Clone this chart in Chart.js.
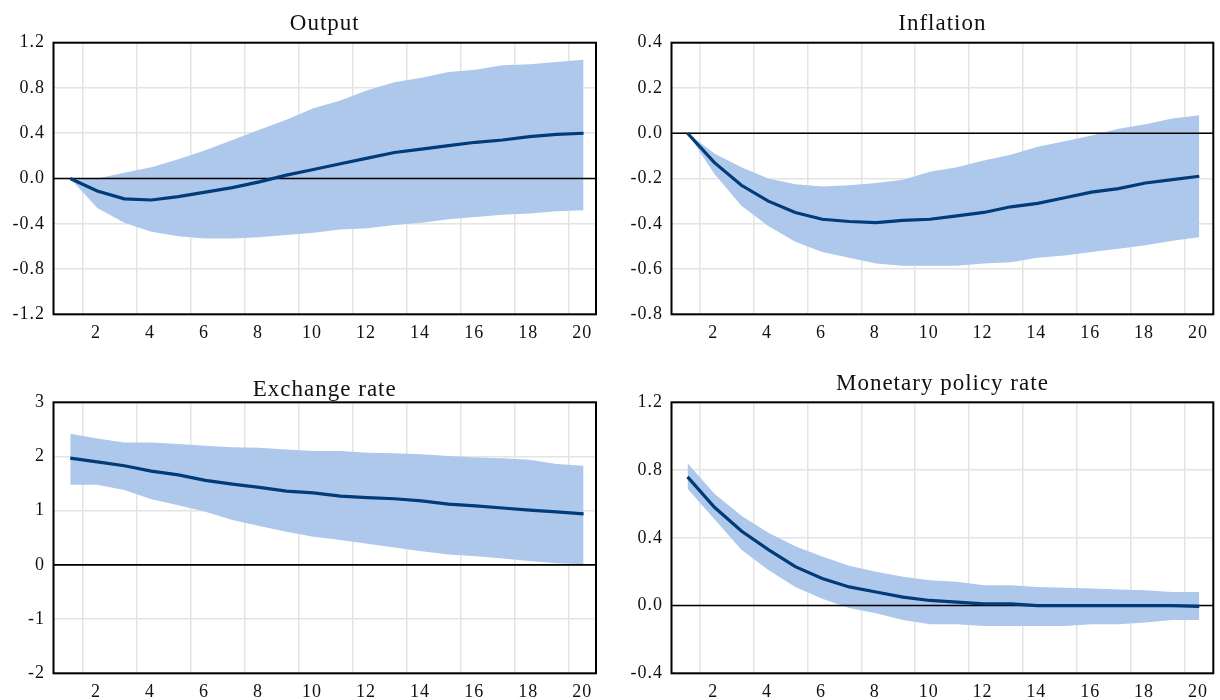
<!DOCTYPE html>
<html><head><meta charset="utf-8">
<script src="https://cdn.jsdelivr.net/npm/chart.js@4.4.1/dist/chart.umd.min.js"></script>
<style>
html,body{margin:0;padding:0;background:#fff;}
#wrap{position:relative;width:1220px;height:700px;overflow:hidden;}
canvas{position:absolute;}
</style></head><body>
<div id="wrap">
<canvas id="c1" width="610" height="350" style="left:0;top:0"></canvas>
<canvas id="c2" width="610" height="350" style="left:610px;top:0"></canvas>
<canvas id="c3" width="610" height="350" style="left:0;top:350px"></canvas>
<canvas id="c4" width="610" height="350" style="left:610px;top:350px"></canvas>
</div>
<script>
// ---------- data ----------
const periods = [1,2,3,4,5,6,7,8,9,10,11,12,13,14,15,16,17,18,19,20];
const xTickLabels = ['2','4','6','8','10','12','14','16','18','20'];

const outputMedian = [0,-0.11,-0.18,-0.19,-0.16,-0.12,-0.08,-0.03,0.03,0.08,0.13,0.18,0.23,0.26,0.29,0.32,0.34,0.37,0.39,0.40];
const outputUpper  = [0,0.00,0.05,0.10,0.17,0.25,0.34,0.43,0.52,0.62,0.69,0.78,0.85,0.89,0.94,0.96,1.00,1.01,1.03,1.05];
const outputLower  = [0,-0.26,-0.39,-0.47,-0.51,-0.53,-0.53,-0.52,-0.50,-0.48,-0.45,-0.44,-0.41,-0.39,-0.36,-0.34,-0.32,-0.31,-0.29,-0.28];

const inflationMedian = [0,-0.13,-0.23,-0.30,-0.35,-0.38,-0.39,-0.395,-0.385,-0.38,-0.365,-0.35,-0.325,-0.31,-0.285,-0.26,-0.245,-0.22,-0.205,-0.19];
const inflationUpper  = [0,-0.09,-0.15,-0.20,-0.225,-0.235,-0.23,-0.22,-0.205,-0.17,-0.15,-0.12,-0.095,-0.06,-0.035,-0.01,0.02,0.04,0.065,0.08];
const inflationLower  = [0,-0.18,-0.32,-0.41,-0.48,-0.525,-0.55,-0.575,-0.585,-0.585,-0.585,-0.575,-0.57,-0.55,-0.54,-0.525,-0.51,-0.495,-0.475,-0.46];

const exchangeMedian = [1.97,1.90,1.83,1.73,1.66,1.56,1.49,1.43,1.36,1.33,1.27,1.24,1.22,1.18,1.12,1.09,1.05,1.01,0.98,0.94];
const exchangeUpper  = [2.42,2.33,2.26,2.26,2.23,2.20,2.17,2.16,2.13,2.10,2.10,2.07,2.06,2.04,2.01,1.98,1.97,1.94,1.86,1.83];
const exchangeLower  = [1.48,1.48,1.38,1.21,1.10,0.98,0.83,0.72,0.61,0.52,0.46,0.39,0.32,0.25,0.19,0.16,0.12,0.07,0.03,0.01];

const policyMedian = [0.76,0.58,0.44,0.33,0.23,0.16,0.11,0.08,0.05,0.03,0.02,0.01,0.01,0.00,0.00,0.00,0.00,0.00,0.00,-0.005];
const policyUpper  = [0.84,0.66,0.53,0.43,0.35,0.29,0.235,0.20,0.17,0.15,0.14,0.12,0.12,0.11,0.105,0.10,0.095,0.09,0.08,0.08];
const policyLower  = [0.69,0.51,0.33,0.21,0.11,0.04,-0.015,-0.045,-0.085,-0.11,-0.11,-0.12,-0.12,-0.12,-0.12,-0.11,-0.11,-0.10,-0.085,-0.085];

const titles = ['Output','Inflation','Exchange rate','Monetary policy rate'];

// ---------- style ----------
Chart.defaults.font.family = "'Liberation Serif', 'Times New Roman', serif";
Chart.defaults.color = '#111';
const BAND = '#aec8ec';
const LINE = '#003b7a';
const GRID = '#e4e4e4';

const framePlugin = {
  id: 'frame',
  beforeLayout(chart) { chart.ctx.letterSpacing = '1px'; },
  beforeDraw(chart) { chart.ctx.letterSpacing = '1px'; },
  beforeDatasetDraw(chart, args) {
    if (args.index !== 2) return;
    const {ctx, chartArea: a, scales: {y}} = chart;
    const py = y.getPixelForValue(0);
    ctx.save();
    ctx.strokeStyle = '#000'; ctx.lineWidth = 1.6;
    ctx.beginPath(); ctx.moveTo(a.left, py); ctx.lineTo(a.right, py); ctx.stroke();
    ctx.restore();
  },
  afterDraw(chart) {
    const {ctx, chartArea: a} = chart;
    ctx.save();
    ctx.strokeStyle = '#000'; ctx.lineWidth = 2;
    ctx.strokeRect(a.left, a.top, a.right - a.left, a.bottom - a.top);
    ctx.restore();
  }
};

function pts(arr) { return periods.map((p, i) => ({x: p, y: arr[i]})); }

function makeChart(id, cfg) {
  new Chart(document.getElementById(id), {
    type: 'line',
    data: {
      datasets: [
        {label: 'upper', data: pts(cfg.upper), fill: '+1', backgroundColor: BAND, borderWidth: 0, pointRadius: 0, order: 1, tension: 0},
        {label: 'lower', data: pts(cfg.lower), fill: false, borderWidth: 0, pointRadius: 0, order: 1, tension: 0},
        {label: 'median', data: pts(cfg.median), fill: false, borderColor: LINE, borderWidth: 3.2, pointRadius: 0, order: 0, tension: 0}
      ]
    },
    options: {
      responsive: false,
      animation: false,
      layout: {padding: {left: 0, right: cfg.padRight, top: 0, bottom: 0}},
      plugins: {
        legend: {display: false},
        tooltip: {enabled: false},
        title: {
          display: true, text: cfg.title, fullSize: false,
          font: {size: 23, weight: 'normal', lineHeight: 1.0}, color: '#111',
          padding: {top: cfg.titleTop, bottom: cfg.titleBottom}
        }
      },
      scales: {
        x: {
          type: 'linear', min: cfg.xMin, max: cfg.xMax,
          afterBuildTicks: (s) => { s.ticks = xTickLabels.map(l => ({value: Number(l) - 0.55})); },
          afterFit: (s) => { s.height = cfg.xHeight; },
          ticks: {
            callback: (v) => String(Math.round(v + 0.55)),
            labelOffset: 13.5, padding: 8.5, maxRotation: 0, autoSkip: false,
            font: {size: 18}, color: '#111'
          },
          grid: {color: GRID, lineWidth: 1.5, drawTicks: false},
          border: {display: false}
        },
        y: {
          min: cfg.yMin, max: cfg.yMax,
          afterFit: (s) => { s.width = cfg.yWidth; },
          ticks: {
            stepSize: cfg.step, padding: 8.5, font: {size: 18}, color: '#111',
            callback: (v) => Number(v).toFixed(cfg.decimals)
          },
          grid: {color: GRID, lineWidth: 1.5, drawTicks: false},
          border: {display: false}
        }
      }
    },
    plugins: [framePlugin]
  });
}

makeChart('c1', {title: titles[0], median: outputMedian, upper: outputUpper, lower: outputLower,
  yMin: -1.2, yMax: 1.2, step: 0.4, decimals: 1, yWidth: 53.5, padRight: 14, xMin: 0.38, xMax: 20.46, xHeight: 35.7,
  titleTop: 12.9, titleBottom: 6.8});
makeChart('c2', {title: titles[1], median: inflationMedian, upper: inflationUpper, lower: inflationLower,
  yMin: -0.8, yMax: 0.4, step: 0.2, decimals: 1, yWidth: 61.5, padRight: 6.7, xMin: 0.405, xMax: 20.52, xHeight: 35.7,
  titleTop: 12.9, titleBottom: 6.8});
makeChart('c3', {title: titles[2], median: exchangeMedian, upper: exchangeUpper, lower: exchangeLower,
  yMin: -2, yMax: 3, step: 1, decimals: 0, yWidth: 53.5, padRight: 14, xMin: 0.38, xMax: 20.46, xHeight: 26.7,
  titleTop: 28.2, titleBottom: 1.1});
makeChart('c4', {title: titles[3], median: policyMedian, upper: policyUpper, lower: policyLower,
  yMin: -0.4, yMax: 1.2, step: 0.4, decimals: 1, yWidth: 61.5, padRight: 6.7, xMin: 0.405, xMax: 20.52, xHeight: 26.7,
  titleTop: 22.2, titleBottom: 7.1});
</script>
</body></html>
